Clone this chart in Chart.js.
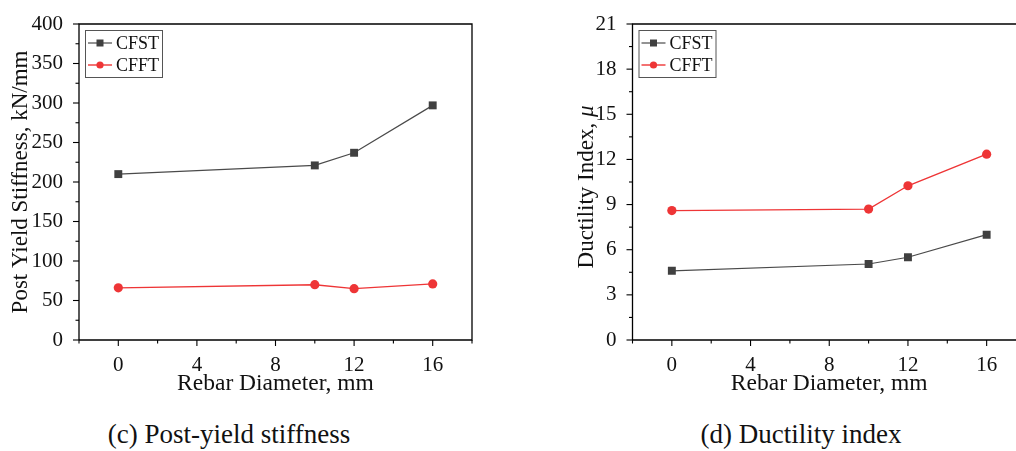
<!DOCTYPE html>
<html>
<head>
<meta charset="utf-8">
<script src="https://cdn.jsdelivr.net/npm/chart.js@4/dist/chart.umd.min.js"></script>
<style>
  html, body { margin:0; padding:0; width:1016px; height:451px; overflow:hidden; background:#fff; }
  .box { position:absolute; top:0; height:400px; }
  #c1box { left:0; width:500px; }
  #c2box { left:560px; width:480px; }
  .cap { position:absolute; font-family:"Liberation Serif","Times New Roman",serif; font-size:27px; color:#111; white-space:nowrap; transform:translateX(-50%); top:419px; }
</style>
</head>
<body>
<div class="box" id="c1box"><canvas id="c1" width="500" height="400"></canvas></div>
<div class="box" id="c2box"><canvas id="c2" width="480" height="400"></canvas></div>
<div class="cap" style="left:229px">(c) Post-yield stiffness</div>
<div class="cap" style="left:801px">(d) Ductility index</div>
<script>
// ---- data ----
const diameters = [0, 10, 12, 16];
const stiffnessCFST = [210, 221, 237, 297];
const stiffnessCFFT = [66, 70, 65, 71];
const ductilityCFST = [4.6, 5.05, 5.5, 7.0];
const ductilityCFFT = [8.6, 8.7, 10.25, 12.35];
const xTickLabels = [0, 4, 8, 12, 16];
const stiffnessTickLabels = [0, 50, 100, 150, 200, 250, 300, 350, 400];
const ductilityTickLabels = [0, 3, 6, 9, 12, 15, 18, 21];
const seriesNames = ['CFST', 'CFFT'];

const SERIF = '"Liberation Serif","Times New Roman",serif';
const GREY = '#404040';
const RED = '#ee3536';

function pts(ys) { return diameters.map((d, i) => ({x: d, y: ys[i]})); }

function makeDatasets(a, b) {
  return [
    { label: seriesNames[0], data: pts(a), borderColor: '#4a4a4a', backgroundColor: GREY,
      borderWidth: 1.2, pointStyle: 'rect', pointRadius: 5.6, pointBorderWidth: 0, pointBackgroundColor: GREY },
    { label: seriesNames[1], data: pts(b), borderColor: RED, backgroundColor: RED,
      borderWidth: 1.4, pointStyle: 'circle', pointRadius: 4.6, pointBorderWidth: 0, pointBackgroundColor: RED }
  ];
}

function decoPlugin(yTitleParts, yLabels, titleOffset, titleShift) {
  return {
    id: 'deco',
    afterDraw(chart) {
      const ctx = chart.ctx;
      const a = chart.chartArea;
      const xs = chart.scales.x, ys = chart.scales.y;
      ctx.save();
      ctx.strokeStyle = '#000';
      ctx.lineWidth = 1.3;
      // frame
      ctx.beginPath();
      ctx.moveTo(a.left, a.bottom); ctx.lineTo(a.left, a.top); ctx.lineTo(a.right, a.top); ctx.lineTo(a.right, a.bottom); ctx.lineTo(a.left, a.bottom);
      ctx.stroke();
      // ticks
      ctx.lineWidth = 1.1;
      xs.ticks.forEach(t => {
        const p = xs.getPixelForValue(t.value);
        const major = xTickLabels.includes(t.value);
        ctx.beginPath(); ctx.moveTo(p, a.bottom); ctx.lineTo(p, a.bottom + (major ? 6 : 3.5)); ctx.stroke();
      });
      ys.ticks.forEach(t => {
        const p = ys.getPixelForValue(t.value);
        const major = yLabels.includes(t.value);
        ctx.beginPath(); ctx.moveTo(a.left, p); ctx.lineTo(a.left - (major ? 6 : 3.5), p); ctx.stroke();
      });
      // x title
      ctx.fillStyle = '#111';
      ctx.font = '23.5px ' + SERIF;
      ctx.textAlign = 'center'; ctx.textBaseline = 'alphabetic';
      ctx.fillText('Rebar Diameter, mm', (a.left + a.right) / 2, a.bottom + 50);
      // y title (rotated)
      ctx.save();
      ctx.translate(a.left - titleOffset, (a.top + a.bottom) / 2 + titleShift);
      ctx.rotate(-Math.PI / 2);
      ctx.textBaseline = 'middle';
      let total = 0;
      yTitleParts.forEach(p => { ctx.font = (p.italic ? 'italic ' : '') + '23px ' + SERIF; total += ctx.measureText(p.text).width; });
      let x = -total / 2;
      ctx.textAlign = 'left';
      yTitleParts.forEach(p => { ctx.font = (p.italic ? 'italic ' : '') + '23px ' + SERIF; ctx.fillText(p.text, x, 0); x += ctx.measureText(p.text).width; });
      ctx.restore();
      // legend
      const bx = a.left + 6, by = a.top + 6, bw = 77, bh = 47;
      ctx.strokeStyle = '#555'; ctx.lineWidth = 1;
      ctx.strokeRect(bx + 0.5, by + 0.5, bw, bh);
      chart.data.datasets.forEach((ds, i) => {
        const ry = by + 13 + i * 22;
        ctx.strokeStyle = ds.borderColor; ctx.lineWidth = ds.borderWidth;
        ctx.beginPath(); ctx.moveTo(bx + 3, ry); ctx.lineTo(bx + 27, ry); ctx.stroke();
        ctx.fillStyle = ds.pointBackgroundColor;
        if (ds.pointStyle === 'rect') { ctx.fillRect(bx + 15 - 3.5, ry - 3.5, 7, 7); }
        else { ctx.beginPath(); ctx.arc(bx + 15, ry, 3.6, 0, Math.PI * 2); ctx.fill(); }
        ctx.fillStyle = '#111'; ctx.font = '18px ' + SERIF; ctx.textAlign = 'left'; ctx.textBaseline = 'middle';
        ctx.fillText(ds.label, bx + 31, ry + 1);
      });
      ctx.restore();
    }
  };
}

function makeChart(id, a, b, yMax, yStep, yLabels, yTitleParts, yWidth, padRight, titleOffset, titleShift) {
  return new Chart(document.getElementById(id), {
    type: 'line',
    data: { datasets: makeDatasets(a, b) },
    options: {
      responsive: false, animation: false,
      layout: { padding: { top: 24, right: padRight, left: 0, bottom: 0 } },
      plugins: { legend: { display: false }, tooltip: { enabled: false } },
      elements: { line: { tension: 0 } },
      scales: {
        x: {
          type: 'linear', min: -2, max: 18,
          grid: { display: false }, border: { display: false },
          ticks: { stepSize: 2, autoSkip: false, maxRotation: 0, padding: 5, color: '#111',
                   font: { family: SERIF, size: 21 },
                   callback: v => xTickLabels.includes(v) ? String(v) : '' },
          afterFit: s => { s.height = 60; }
        },
        y: {
          min: 0, max: yMax,
          grid: { display: false }, border: { display: false },
          ticks: { stepSize: yStep, autoSkip: false, padding: 8, color: '#111',
                   font: { family: SERIF, size: 21 },
                   callback: v => yLabels.includes(v) ? String(v) : '' },
          afterFit: s => { s.width = yWidth; }
        }
      }
    },
    plugins: [decoPlugin(yTitleParts, yLabels, titleOffset, titleShift)]
  });
}

makeChart('c1', stiffnessCFST, stiffnessCFFT, 400, 25, stiffnessTickLabels,
  [{text: 'Post Yield Stiffness, kN/mm'}], 79, 28, 58, 0);
makeChart('c2', ductilityCFST, ductilityCFFT, 21, 1.5, ductilityTickLabels,
  [{text: 'Ductility Index, '}, {text: 'μ', italic: true}], 72.5, 14, 46, 5);
</script>
</body>
</html>
